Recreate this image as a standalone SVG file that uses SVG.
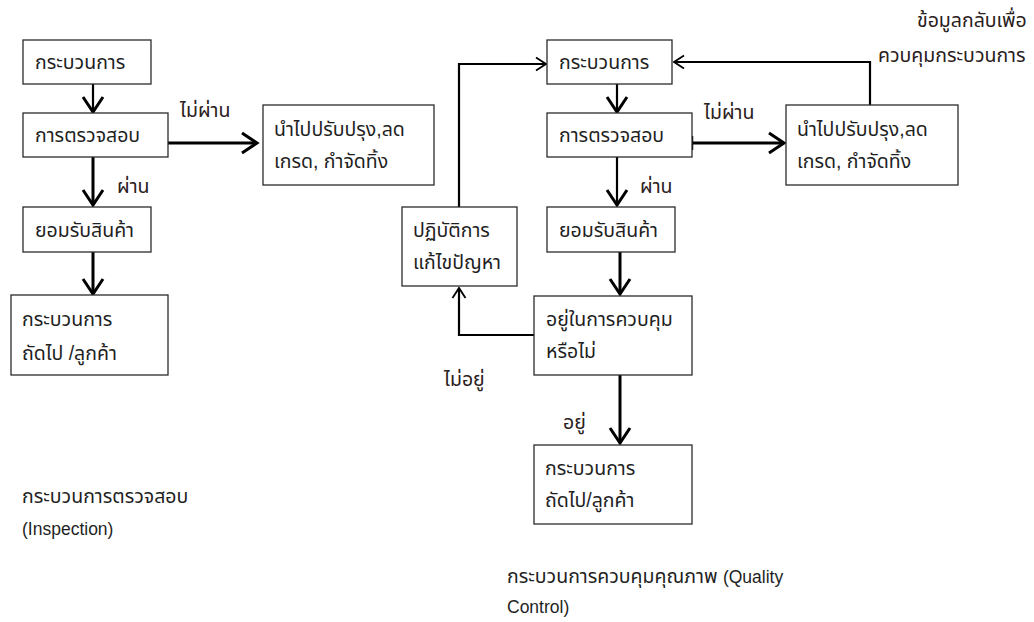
<svg xmlns="http://www.w3.org/2000/svg" width="1034" height="622" viewBox="0 0 1034 622">
  <style>
    .box { fill: #ffffff; stroke: #2b2b2b; stroke-width: 1.3; }
    .t { font-family: "Liberation Sans", "Noto Sans Thai", "Noto Sans", sans-serif; font-size: 19.5px; fill: #1f1f1f; }
    .lbl { font-family: "Liberation Sans", "Noto Sans Thai", "Noto Sans", sans-serif; font-size: 19.5px; fill: #2a2020; }
    .en { font-size: 17.5px; }
    .w3 { fill: none; stroke: #000; stroke-width: 3; }
    .w2 { fill: none; stroke: #000; stroke-width: 2.2; }
  </style>
  <defs>
    <marker id="big" markerUnits="userSpaceOnUse" markerWidth="24" markerHeight="24" viewBox="-16 -12 18 24" refX="0" refY="0" orient="auto">
      <path d="M-15,-10 L0,0 L-15,10" fill="none" stroke="#000" stroke-width="3"/>
    </marker>
    <marker id="small" markerUnits="userSpaceOnUse" markerWidth="16" markerHeight="16" viewBox="-12 -8 14 16" refX="0" refY="0" orient="auto">
      <path d="M-10,-6.5 L0,0 L-10,6.5" fill="none" stroke="#000" stroke-width="1.8"/>
    </marker>
  </defs>

  <!-- connectors -->
  <g id="connectors">
    <!-- inspection flow -->
    <line class="w2" x1="93" y1="84" x2="93" y2="112" marker-end="url(#big)"/>
    <line class="w3" x1="93" y1="157" x2="93" y2="205" marker-end="url(#big)"/>
    <line class="w3" x1="93" y1="252" x2="93" y2="294" marker-end="url(#big)"/>
    <line class="w3" x1="168" y1="143" x2="257" y2="143" marker-end="url(#big)"/>
    <!-- quality control flow -->
    <line class="w2" x1="617" y1="84" x2="617" y2="112" marker-end="url(#big)"/>
    <line class="w2" x1="617" y1="157" x2="617" y2="205" marker-end="url(#big)"/>
    <line class="w3" x1="620" y1="252" x2="620" y2="294" marker-end="url(#big)"/>
    <line class="w3" x1="620" y1="375" x2="620" y2="443" marker-end="url(#big)"/>
    <line class="w3" x1="692" y1="143" x2="784" y2="143" marker-end="url(#big)"/>
    <line x1="692" y1="136" x2="692" y2="150" stroke="#000" stroke-width="2.5"/>
    <polyline class="w2" points="459,207 459,64 546,64" marker-end="url(#small)"/>
    <polyline class="w2" points="870,105 870,62 674,62" marker-end="url(#small)"/>
    <polyline class="w2" points="534,335 459,335 459,288" marker-end="url(#small)"/>
  </g>

  <!-- inspection boxes -->
  <g id="i-process">
    <rect class="box" x="23" y="40" width="128" height="44"/>
    <text class="t" x="35" y="69">กระบวนการ</text>
  </g>
  <g id="i-check">
    <rect class="box" x="23" y="113" width="145" height="44"/>
    <text class="t" x="35" y="142">การตรวจสอบ</text>
  </g>
  <g id="i-accept">
    <rect class="box" x="23" y="207" width="128" height="45"/>
    <text class="t" x="35" y="237">ยอมรับสินค้า</text>
  </g>
  <g id="i-next">
    <rect class="box" x="11" y="295" width="157" height="80"/>
    <text class="t" x="22" y="326">กระบวนการ</text>
    <text class="t" x="22" y="360">ถัดไป /ลูกค้า</text>
  </g>
  <g id="i-reject">
    <rect class="box" x="263" y="105" width="171" height="80"/>
    <text class="t" x="274" y="136">นำไปปรับปรุง,ลด</text>
    <text class="t" x="274" y="168">เกรด, กำจัดทิ้ง</text>
  </g>

  <!-- quality control boxes -->
  <g id="q-process">
    <rect class="box" x="547" y="40" width="125" height="44"/>
    <text class="t" x="559" y="69">กระบวนการ</text>
  </g>
  <g id="q-check">
    <rect class="box" x="547" y="113" width="145" height="44"/>
    <text class="t" x="559" y="142">การตรวจสอบ</text>
  </g>
  <g id="q-accept">
    <rect class="box" x="547" y="207" width="128" height="45"/>
    <text class="t" x="559" y="237">ยอมรับสินค้า</text>
  </g>
  <g id="q-decide">
    <rect class="box" x="534" y="296" width="158" height="79"/>
    <text class="t" x="546" y="326">อยู่ในการควบคุม</text>
    <text class="t" x="546" y="358">หรือไม่</text>
  </g>
  <g id="q-next">
    <rect class="box" x="534" y="445" width="158" height="79"/>
    <text class="t" x="545" y="475">กระบวนการ</text>
    <text class="t" x="545" y="507">ถัดไป/ลูกค้า</text>
  </g>
  <g id="q-reject">
    <rect class="box" x="786" y="105" width="172" height="80"/>
    <text class="t" x="797" y="136">นำไปปรับปรุง,ลด</text>
    <text class="t" x="797" y="168">เกรด, กำจัดทิ้ง</text>
  </g>
  <g id="q-fix">
    <rect class="box" x="402" y="207" width="115" height="79"/>
    <text class="t" x="413" y="237">ปฏิบัติการ</text>
    <text class="t" x="413" y="269">แก้ไขปัญหา</text>
  </g>

  <!-- connector labels -->
  <g id="labels">
    <text class="lbl" x="180" y="117">ไม่ผ่าน</text>
    <text class="lbl" x="117" y="193">ผ่าน</text>
    <text class="lbl" x="704" y="119">ไม่ผ่าน</text>
    <text class="lbl" x="640" y="193">ผ่าน</text>
    <text class="lbl" x="444" y="386">ไม่อยู่</text>
    <text class="lbl" x="563" y="429">อยู่</text>
    <text class="lbl" x="917" y="27">ข้อมูลกลับเพื่อ</text>
    <text class="lbl" x="878" y="62">ควบคุมกระบวนการ</text>
  </g>

  <!-- captions -->
  <g id="captions">
    <text class="t" x="22" y="503">กระบวนการตรวจสอบ</text>
    <text class="t en" x="22" y="535">(Inspection)</text>
    <text class="t" x="507" y="583">กระบวนการควบคุมคุณภาพ <tspan class="en">(Quality</tspan></text>
    <text class="t en" x="507" y="613">Control)</text>
  </g>
</svg>
